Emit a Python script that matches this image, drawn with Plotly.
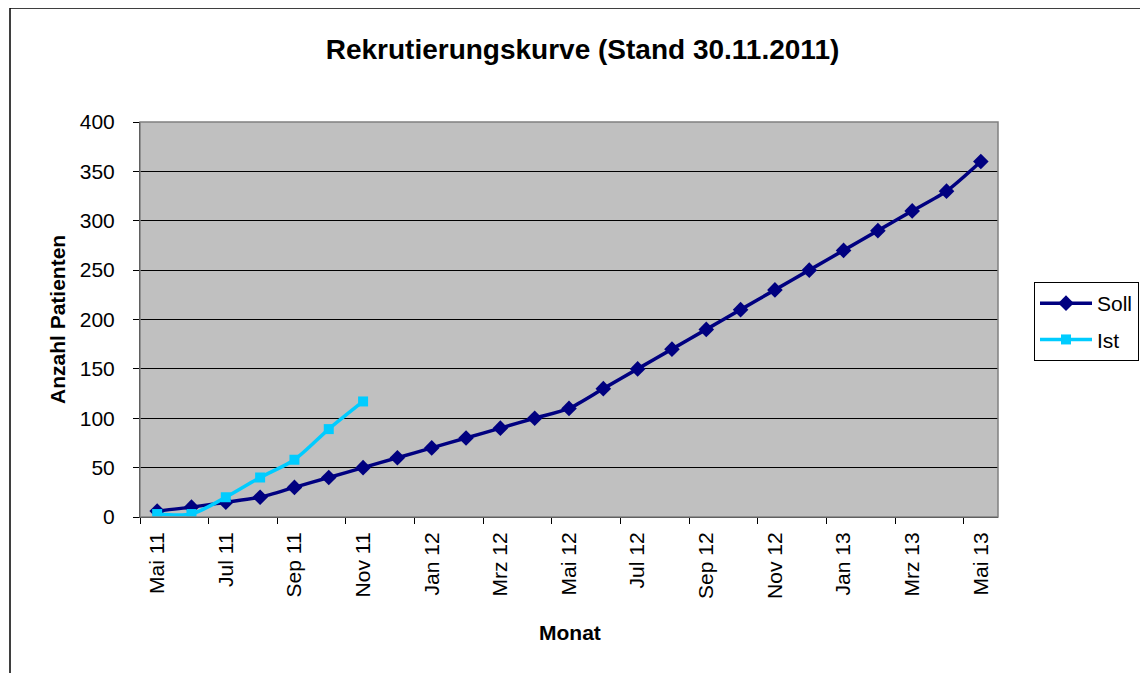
import plotly.graph_objects as go

months = ["Mai 11", "Jun 11", "Jul 11", "Aug 11", "Sep 11", "Okt 11", "Nov 11", "Dez 11",
          "Jan 12", "Feb 12", "Mrz 12", "Apr 12", "Mai 12", "Jun 12", "Jul 12", "Aug 12",
          "Sep 12", "Okt 12", "Nov 12", "Dez 12", "Jan 13", "Feb 13", "Mrz 13", "Apr 13", "Mai 13"]
soll = [6, 10, 15, 20, 30, 40, 50, 60, 70, 80, 90, 100, 110, 130, 150, 170, 190, 210, 230,
        250, 270, 290, 310, 330, 360]
ist = [3, 3, 20, 40, 58, 89, 117]
y_ticks = [0, 50, 100, 150, 200, 250, 300, 350, 400]

idx = list(range(len(months)))
label_idx = idx[::2]
label_text = months[::2]
boundary_ticks = [i - 0.5 for i in idx[::2]]

FONT = "Liberation Sans, Arial, sans-serif"
OFF = 8  # page body margin
W, H = 1148 - OFF, 673 - OFF
L, T, PW, PH = 140 - OFF, 122 - OFF, 858, 395


def px(x):
    return (x - 140) / PW


def py(y):
    return (517 - y) / PH


fig = go.Figure()
fig.add_trace(go.Scatter(
    x=idx, y=soll, name="Soll", mode="lines+markers", legendgroup="a",
    line=dict(color="#000080", width=3.5, shape="spline", smoothing=0.7),
    marker=dict(symbol="diamond", size=12, color="#000080"),
))
fig.add_trace(go.Scatter(
    x=idx[:len(ist)], y=ist, name="Ist", mode="lines+markers", legendgroup="b",
    line=dict(color="#00CCFF", width=3.5, shape="spline", smoothing=0.8),
    marker=dict(symbol="square", size=10, color="#00CCFF"),
))

fig.update_layout(
    width=W, height=H,
    margin=dict(l=L, r=W - L - PW, t=T, b=H - T - PH, pad=0, autoexpand=False),
    paper_bgcolor="white",
    plot_bgcolor="#C0C0C0",
    font=dict(family=FONT, size=21, color="black"),
    title=dict(text="<b>Rekrutierungskurve (Stand 30.11.2011)</b>",
               x=(582.5 - OFF) / W, xref="container", xanchor="center",
               y=1 - (49 - OFF) / H, yref="container", yanchor="middle",
               font=dict(family=FONT, size=28, color="black")),
    showlegend=True,
    legend=dict(x=px(1034), xanchor="left", y=py(282), yanchor="top",
                bordercolor="black", borderwidth=1, bgcolor="white",
                font=dict(family=FONT, size=21), itemwidth=52,
                tracegroupgap=6),
)

fig.update_xaxes(
    range=[-0.5, len(months) - 0.5],
    tickmode="array", tickvals=label_idx, ticktext=label_text,
    tickangle=-90, ticks="", showgrid=False, zeroline=False,
    showline=True, linecolor="black", linewidth=1,
    tickfont=dict(family=FONT, size=21),
    ticklabelstandoff=6,
    minor=dict(tickmode="array", tickvals=boundary_ticks, ticks="outside",
               ticklen=6, tickcolor="black", tickwidth=1, showgrid=False),
)
fig.update_yaxes(
    range=[0, 400], tickmode="array", tickvals=y_ticks,
    ticks="outside", ticklen=6, tickcolor="black",
    showgrid=True, gridcolor="black", gridwidth=1,
    zeroline=False, showline=True, linecolor="black", linewidth=1,
    tickfont=dict(family=FONT, size=21),
    ticklabelstandoff=14,
)

# plot area border (right/top gray)
fig.add_shape(type="rect", xref="paper", yref="paper", x0=0, x1=1, y0=0, y1=1,
              line=dict(color="#808080", width=1.5), layer="above")
# chart area border
fig.add_shape(type="rect", xref="paper", yref="paper",
              x0=px(10), x1=px(1170), y0=py(700), y1=py(8),
              line=dict(color="black", width=1.5), layer="below")

fig.add_annotation(text="<b>Anzahl Patienten</b>", xref="paper", yref="paper",
                   x=px(57), y=py(320), textangle=-90,
                   showarrow=False, xanchor="center", yanchor="middle",
                   font=dict(family=FONT, size=21))
fig.add_annotation(text="<b>Monat</b>", xref="paper", yref="paper",
                   x=px(570), y=py(632),
                   showarrow=False, xanchor="center", yanchor="middle",
                   font=dict(family=FONT, size=21))

fig.write_html("out.html")
